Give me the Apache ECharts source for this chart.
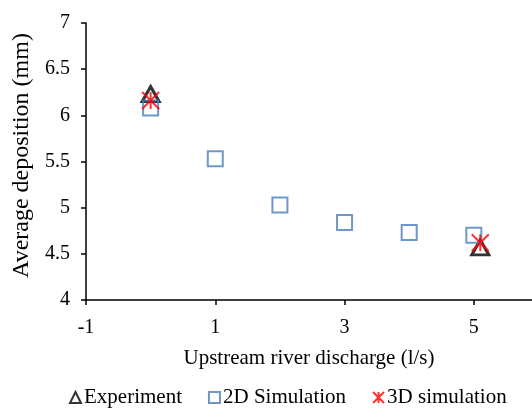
<!DOCTYPE html>
<html>
<head>
<meta charset="utf-8">
<script src="https://cdn.jsdelivr.net/npm/echarts@6/dist/echarts.min.js"></script>
<style>
  html, body { margin: 0; padding: 0; background: #fff; }
  #chart { width: 532px; height: 409px; }
</style>
</head>
<body>
<div id="chart"></div>
<script>
// Average deposition vs upstream river discharge
const xTicks = [-1, 1, 3, 5];
const yTicks = [4, 4.5, 5, 5.5, 6, 6.5, 7];

const experimentX = [0, 5.1];
const experimentY = [6.23, 4.57];

const sim2dX = [0, 1, 2, 3, 4, 5];
const sim2dY = [6.08, 5.53, 5.03, 4.84, 4.73, 4.70];

const sim3dX = [0, 5.1];
const sim3dY = [6.16, 4.62];

const pairs = (xs, ys) => xs.map((x, i) => [x, ys[i]]);

const serif = '"Liberation Serif", "Times New Roman", serif';
const blue = '#4A7EBB';
const asterisk = 'path://M0,0L10,10M10,0L0,10M5,0L5,10';

const chart = echarts.init(document.getElementById('chart'));
chart.setOption({
  animation: false,
  backgroundColor: '#fff',
  grid: { left: 86, top: 23, right: 0, bottom: 109, containLabel: false, outerBoundsMode: 'none' },
  xAxis: {
    type: 'value',
    min: -1,
    max: 5.9,
    interval: 2,
    splitLine: { show: false },
    axisLine: { onZero: false, lineStyle: { color: '#000', width: 1.5 } },
    axisTick: { show: true, length: 5, lineStyle: { color: '#000', width: 1.5 }, customValues: xTicks },
    axisLabel: { color: '#000', fontFamily: serif, fontSize: 20, margin: 18, customValues: xTicks },
    name: 'Upstream river discharge (l/s)',
    nameLocation: 'middle',
    nameGap: 48,
    nameTextStyle: { color: '#000', fontFamily: serif, fontSize: 21 }
  },
  yAxis: {
    type: 'value',
    min: 4,
    max: 7,
    interval: 0.5,
    splitLine: { show: false },
    axisLine: { show: true, onZero: false, lineStyle: { color: '#000', width: 1.5 } },
    axisTick: { show: true, length: 5, lineStyle: { color: '#000', width: 1.5 }, customValues: yTicks },
    axisLabel: { color: '#000', fontFamily: serif, fontSize: 20, margin: 16, customValues: yTicks },
    name: 'Average deposition (mm)',
    nameLocation: 'middle',
    nameGap: 50,
    nameTextStyle: { color: '#000', fontFamily: serif, fontSize: 24, padding: [0, 0, 0, 12] }
  },
  legend: {
    top: 382,
    left: 64,
    itemWidth: 11,
    itemHeight: 11,
    itemGap: 26,
    textStyle: { color: '#000', fontFamily: serif, fontSize: 21, padding: [0, 0, 0, -2] },
    data: ['Experiment', '2D Simulation', '3D simulation']
  },
  series: [
    {
      name: 'Experiment',
      type: 'scatter',
      symbol: 'triangle',
      symbolSize: [17, 15],
      itemStyle: { color: 'rgba(0,0,0,0)', borderColor: '#000', borderWidth: 3 },
      data: pairs(experimentX, experimentY),
      z: 2
    },
    {
      name: '2D Simulation',
      type: 'scatter',
      symbol: 'rect',
      symbolSize: 15,
      itemStyle: { color: 'rgba(0,0,0,0)', borderColor: blue, borderWidth: 2 },
      data: pairs(sim2dX, sim2dY),
      z: 3
    },
    {
      name: '3D simulation',
      type: 'scatter',
      symbol: asterisk,
      symbolSize: 17,
      itemStyle: { color: 'rgba(0,0,0,0)', borderColor: '#ff0000', borderWidth: 2 },
      data: pairs(sim3dX, sim3dY),
      z: 4
    }
  ]
});
</script>
</body>
</html>
